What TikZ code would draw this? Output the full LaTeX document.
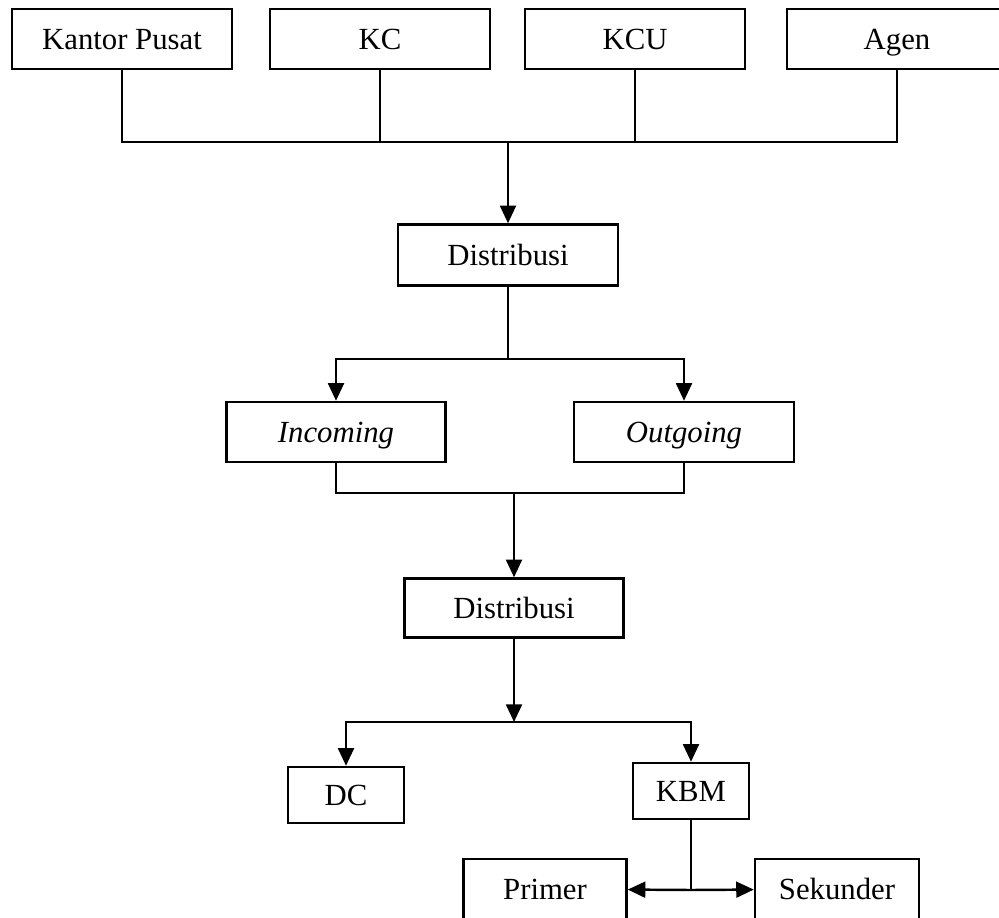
\documentclass[tikz,border=0pt]{standalone}
\usepackage{fontspec}
\setmainfont{Liberation Serif}
\usetikzlibrary{arrows.meta,positioning}

\begin{document}
\begin{tikzpicture}[>={Triangle[length=10pt,width=9pt]},x=0.02cm,y=-0.02cm,line width=1.4pt,
  box/.style={draw,inner sep=0pt,minimum height=1.2cm,text height=11.6pt,text depth=0pt,
    font=\fontsize{17.5}{21}\selectfont}]
\path[use as bounding box,clip] (0,0) rectangle (999,918);
\node[box,minimum width=4.4cm]  (pusat)  at (122,39)  {Kantor Pusat};
\node[box,minimum width=4.4cm]  (kc)     at (380,39)  {KC};
\node[box,minimum width=4.4cm]  (kcu)    at (635,39)  {KCU};
\node[box,minimum width=4.4cm]  (agen)   at (897,39)  {Agen};
\node[box,minimum width=4.4cm,minimum height=1.22cm] (dist1) at (508,255) {Distribusi};
\node[box,minimum width=4.38cm] (in)     at (336,432) {\textit{Incoming}};
\node[box,minimum width=4.4cm]  (out)    at (684,432) {\textit{Outgoing}};
\node[box,minimum width=4.38cm,minimum height=1.18cm] (dist2) at (514,608) {Distribusi};
\node[box,minimum width=2.32cm,minimum height=1.12cm] (dc)  at (346,795) {DC};
\node[box,minimum width=2.32cm,minimum height=1.12cm] (kbm) at (691,791) {KBM};
\node[box,minimum width=3.26cm] (primer)   at (545,889) {Primer};
\node[box,minimum width=3.28cm] (sekunder) at (837,889) {Sekunder};
\coordinate (bus)    at (508,142);
\coordinate (split1) at (508,359);
\coordinate (merge)  at (514,493);
\coordinate (split2) at (514,722);
\coordinate (split3) at (691,890);
\draw (pusat) |- (bus) -| (agen);
\draw (kc) -- (kc |- bus);
\draw (kcu) -- (kcu |- bus);
\draw[->] (bus) -- (dist1);
\draw (dist1) -- (split1);
\draw[->] (split1) -| (in);
\draw[->] (split1) -| (out);
\draw (in) |- (merge) -| (out);
\draw[->] (merge) -- (dist2);
\draw[->] (dist2) -- (split2);
\draw[->] (split2) -| (dc);
\draw[->] (split2) -| (kbm);
\draw (kbm) -- (split3);
\draw[->] (split3) -- (primer);
\draw[->] (split3) -- (sekunder);
\end{tikzpicture}
\end{document}
